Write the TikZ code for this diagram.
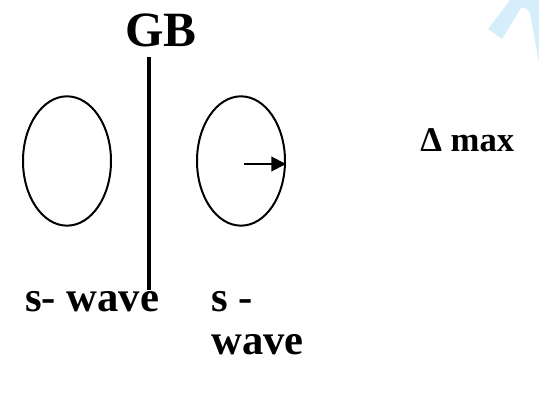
\documentclass[tikz,border=0pt]{standalone}
\usepackage{fontspec}
\setmainfont{Liberation Serif}
\usetikzlibrary{arrows.meta,shapes.geometric}
\definecolor{wmblue}{RGB}{214,238,250}
\begin{document}
\begin{tikzpicture}[x=0.75pt,y=-0.75pt, lbl/.style={font=\bfseries\fontsize{32}{36}\selectfont, inner sep=0pt, anchor=base west}, grain/.style={draw,ellipse,line width=1.5pt,minimum width=66pt,minimum height=97pt,inner sep=0pt}]
\useasboundingbox (0,0) rectangle (539,398);
% watermark piece
\fill[wmblue] (488,29) -- (510,0) -- (539,0) -- (539,63) -- (530,13) to[out=120,in=20] (521,8) -- (502,39) -- cycle;
% grains
\node[grain] (lgrain) at (67,161) {};
\node[grain] (rgrain) at (241,161) {};
\coordinate (vstart) at (244,164);
\draw[line width=1.5pt,-{Triangle[length=11pt,width=11pt]}] (vstart) -- (vstart -| rgrain.east);
% boundary
\node[lbl,font=\bfseries\fontsize{37}{40}\selectfont] (gb) at (125,47) {GB};
\coordinate (gbtop) at (149,57);
\coordinate (gbbot) at (149,290);
\draw[line width=2.6pt] (gbtop) -- (gbbot);
% labels
\node[lbl] (lwave) at (25,312) {s- wave};
\node[lbl] (rwave1) at (211,312) {s -};
\node[lbl] (rwave2) at (211,355) {wave};
\node[lbl,font=\bfseries\fontsize{26}{30}\selectfont] (dmax) at (420,152) {Δ max};
\end{tikzpicture}
\end{document}
